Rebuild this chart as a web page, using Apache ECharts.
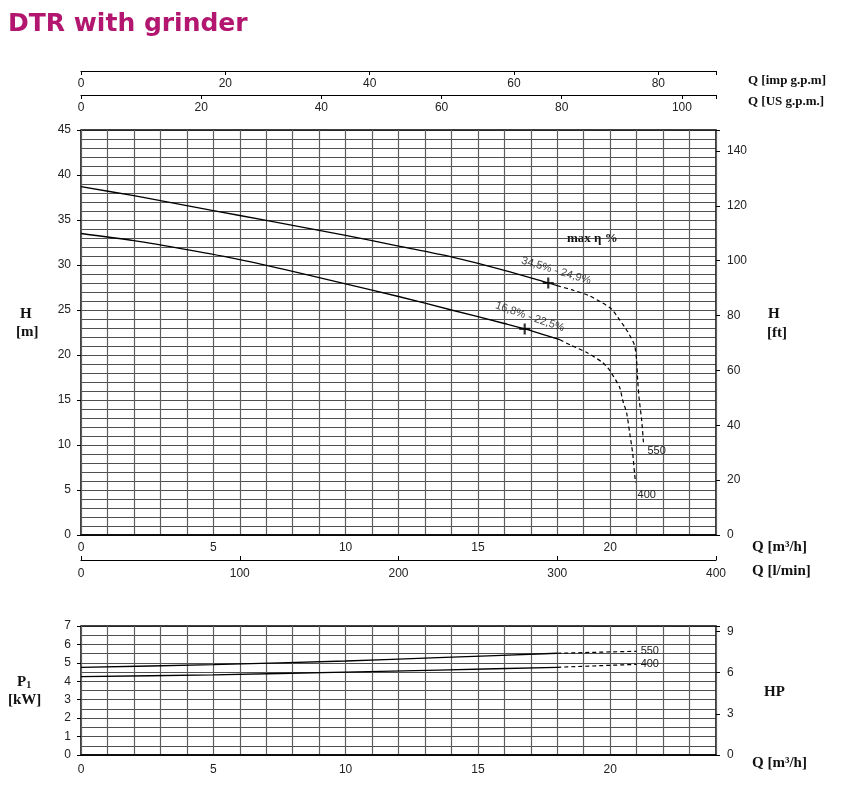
<!DOCTYPE html>
<html><head><meta charset="utf-8">
<script src="https://cdn.jsdelivr.net/npm/echarts@6/dist/echarts.min.js"></script>
<style>html,body{margin:0;padding:0;background:#fff}#c{width:863px;height:795px}</style>
</head><body><div id="c"></div>
<script>
// ---------- data ----------
// Head curves, Q [m3/h] vs H [m]
const q550Solid = [0, 2, 4, 6, 8, 10, 12, 14, 16, 17.66, 18];
const h550Solid = [38.7, 37.7, 36.6, 35.5, 34.4, 33.3, 32.1, 30.9, 29.4, 28.0, 27.7];
const q550Dash = [18, 18.6, 19.2, 19.7, 20.06, 20.36, 20.66, 20.92, 21.0, 21.04, 21.1, 21.19, 21.26];
const h550Dash = [27.7, 27.2, 26.6, 25.8, 25.1, 23.9, 22.6, 21.1, 19.4, 17.2, 15.0, 12.8, 10.2];

const q400Solid = [0, 2, 4, 6, 8, 10, 12, 14, 16, 16.77, 18.1];
const h400Solid = [33.5, 32.7, 31.7, 30.6, 29.3, 27.9, 26.5, 25.0, 23.5, 22.9, 21.7];
const q400Dash = [18.1, 18.5, 19.1, 19.7, 19.98, 20.36, 20.47, 20.62, 20.74, 20.85, 20.92, 20.96];
const h400Dash = [21.7, 21.1, 20.3, 19.2, 18.3, 16.4, 15.0, 13.6, 11.3, 9.1, 6.9, 5.8];

// Best efficiency points
const bepQ = [17.66, 16.77];
const bepH = [28.0, 22.9];
const bepLabels = ['34,5% - 24,9%', '16,8% - 22,5%'];
const curveNames = ['550', '400'];

// Power curves, Q [m3/h] vs P1 [kW]
const qPSolid = [0, 5, 10, 13.5, 18];
const p550Solid = [4.76, 4.9, 5.1, 5.28, 5.52];
const p400Solid = [4.25, 4.35, 4.5, 4.61, 4.76];
const qPDash = [18, 21];
const p550Dash = [5.52, 5.63];
const p400Dash = [4.76, 4.92];

// axis ranges
const qMax = 24;            // m3/h
const hMax = 45;            // m
const pMax = 7;             // kW
const lminMax = qMax * 1000 / 60;   // 400 l/min
const impMax = lminMax / 4.54609;
const usMax = lminMax / 3.78541;
const ftMax = hMax * 3.28084;
const hpMax = pMax * 1.34102;

// ---------- helpers ----------
const zip = (a, b) => a.map((v, i) => [v, b[i]]);
const multOf = (n) => (v) => (Math.abs(v / n - Math.round(v / n)) < 1e-6 ? String(Math.round(v)) : '');

const tickFont = { fontFamily: 'Liberation Sans', fontSize: 12, color: '#222' };
const serifS = 'bold 13px "Liberation Serif"';
const serifB = 'bold 15px "Liberation Serif"';
const black = '#000';

const chart = echarts.init(document.getElementById('c'));

const gridLineV = { show: true, lineStyle: { color: '#5e5e5e', width: 1.2 } };
const gridLineH = { show: true, lineStyle: { color: '#222', width: 0.8 } };
const off = { show: false };
const lineOff = { show: false, onZero: false };

const option = {
  animation: false,
  backgroundColor: '#fff',
  title: {
    text: 'DTR with grinder', left: 8, top: 12, padding: 0,
    textStyle: { fontFamily: 'DejaVu Sans', fontWeight: 'bold', fontSize: 25, color: '#b3166e' }
  },
  grid: [
    { left: 81, top: 130, width: 635, height: 405, show: true, borderColor: black, borderWidth: 1.5, backgroundColor: 'transparent' },
    { left: 81, top: 626, width: 635, height: 129, show: true, borderColor: black, borderWidth: 1.5, backgroundColor: 'transparent' }
  ],
  xAxis: [
    // 0: main grid lines
    { gridIndex: 0, type: 'value', min: 0, max: qMax, interval: 1, position: 'bottom', axisLine: lineOff, axisTick: off, axisLabel: off, splitLine: gridLineV },
    // 1: m3/h labels
    { gridIndex: 0, type: 'value', min: 0, max: qMax, interval: 5, position: 'bottom',
      axisLine: { show: true, onZero: false, lineStyle: { color: black, width: 1.5 } }, axisTick: off, splitLine: off,
      axisLabel: Object.assign({ margin: 7, formatter: multOf(5) }, tickFont) },
    // 2: l/min
    { gridIndex: 0, type: 'value', min: 0, max: lminMax, interval: 100, position: 'bottom', offset: 25,
      axisLine: { show: true, onZero: false, lineStyle: { color: black, width: 1.2 } },
      axisTick: { show: true, inside: true, length: 4, lineStyle: { color: black } }, splitLine: off,
      axisLabel: Object.assign({ margin: 8, formatter: multOf(100) }, tickFont) },
    // 3: imp gpm (top)
    { gridIndex: 0, type: 'value', min: 0, max: impMax, interval: 20, position: 'top', offset: 59,
      axisLine: { show: true, onZero: false, lineStyle: { color: black, width: 1.2 } },
      axisTick: { show: true, inside: true, length: 4, lineStyle: { color: black } }, splitLine: off,
      axisLabel: Object.assign({ inside: true, margin: 7, formatter: multOf(20) }, tickFont) },
    // 4: US gpm (top)
    { gridIndex: 0, type: 'value', min: 0, max: usMax, interval: 20, position: 'top', offset: 35,
      axisLine: { show: true, onZero: false, lineStyle: { color: black, width: 1.2 } },
      axisTick: { show: true, inside: true, length: 4, lineStyle: { color: black } }, splitLine: off,
      axisLabel: Object.assign({ inside: true, margin: 7, formatter: multOf(20) }, tickFont) },
    // 5: power grid lines
    { gridIndex: 1, type: 'value', min: 0, max: qMax, interval: 1, position: 'bottom', axisLine: lineOff, axisTick: off, axisLabel: off, splitLine: gridLineV },
    // 6: power m3/h labels
    { gridIndex: 1, type: 'value', min: 0, max: qMax, interval: 5, position: 'bottom',
      axisLine: { show: true, onZero: false, lineStyle: { color: black, width: 1.5 } }, axisTick: off, splitLine: off,
      axisLabel: Object.assign({ margin: 9, formatter: multOf(5) }, tickFont) }
  ],
  yAxis: [
    // 0: main H grid lines
    { gridIndex: 0, type: 'value', min: 0, max: hMax, interval: 1, position: 'left', axisLine: lineOff, axisTick: off, axisLabel: off, splitLine: gridLineH },
    // 1: H [m] labels
    { gridIndex: 0, type: 'value', min: 0, max: hMax, interval: 5, position: 'left',
      axisLine: lineOff, axisTick: { show: true, length: 4, lineStyle: { color: black } }, splitLine: off,
      axisLabel: Object.assign({ margin: 10, formatter: multOf(5) }, tickFont) },
    // 2: H [ft]
    { gridIndex: 0, type: 'value', min: 0, max: ftMax, interval: 20, position: 'right',
      axisLine: lineOff, axisTick: { show: true, length: 4, lineStyle: { color: black } }, splitLine: off,
      axisLabel: Object.assign({ margin: 11, formatter: multOf(20) }, tickFont) },
    // 3: power grid lines
    { gridIndex: 1, type: 'value', min: 0, max: pMax, interval: 0.5, position: 'left', axisLine: lineOff, axisTick: off, axisLabel: off, splitLine: gridLineH },
    // 4: P1 [kW] labels
    { gridIndex: 1, type: 'value', min: 0, max: pMax, interval: 1, position: 'left',
      axisLine: lineOff, axisTick: { show: true, length: 4, lineStyle: { color: black } }, splitLine: off,
      axisLabel: Object.assign({ margin: 10, formatter: multOf(1) }, tickFont) },
    // 5: HP
    { gridIndex: 1, type: 'value', min: 0, max: hpMax, interval: 3, position: 'right',
      axisLine: lineOff, axisTick: { show: true, length: 4, lineStyle: { color: black } }, splitLine: off,
      axisLabel: Object.assign({ margin: 11, formatter: multOf(3) }, tickFont) }
  ],
  series: [
    { type: 'line', xAxisIndex: 0, yAxisIndex: 0, data: zip(q550Solid, h550Solid), symbol: 'none', smooth: 0.3,
      lineStyle: { color: black, width: 1.3 }, silent: true },
    { type: 'line', xAxisIndex: 0, yAxisIndex: 0, data: zip(q550Dash, h550Dash), symbol: 'none', smooth: 0.2,
      lineStyle: { color: black, width: 1.2, type: [4, 3] }, silent: true,
      endLabel: { show: true, formatter: curveNames[0], distance: 4, offset: [0, 8], fontFamily: 'Liberation Sans', fontSize: 11, color: '#222' } },
    { type: 'line', xAxisIndex: 0, yAxisIndex: 0, data: zip(q400Solid, h400Solid), symbol: 'none', smooth: 0.3,
      lineStyle: { color: black, width: 1.3 }, silent: true },
    { type: 'line', xAxisIndex: 0, yAxisIndex: 0, data: zip(q400Dash, h400Dash), symbol: 'none', smooth: 0.2,
      lineStyle: { color: black, width: 1.2, type: [4, 3] }, silent: true,
      endLabel: { show: true, formatter: curveNames[1], distance: 2, offset: [0, 12], fontFamily: 'Liberation Sans', fontSize: 11, color: '#222' } },
    // best efficiency markers with labels
    { type: 'scatter', xAxisIndex: 0, yAxisIndex: 0, silent: true,
      symbol: 'path://M-1,-5H1V-1H5V1H1V5H-1V1H-5V-1H-1Z', symbolSize: 11, itemStyle: { color: black },
      data: [
        { value: [bepQ[0], bepH[0]], label: { show: true, formatter: bepLabels[0], position: 'inside', rotate: -17, offset: [4, -14] } },
        { value: [bepQ[1], bepH[1]], label: { show: true, formatter: bepLabels[1], position: 'inside', rotate: -19, offset: [1, -13] } }
      ],
      label: { fontFamily: 'Liberation Sans', fontSize: 11, color: '#111', align: 'center', verticalAlign: 'middle' } },
    // power curves
    { type: 'line', xAxisIndex: 5, yAxisIndex: 3, data: zip(qPSolid, p550Solid), symbol: 'none', smooth: 0.2,
      lineStyle: { color: black, width: 1.3 }, silent: true },
    { type: 'line', xAxisIndex: 5, yAxisIndex: 3, data: zip(qPDash, p550Dash), symbol: 'none',
      lineStyle: { color: black, width: 1.2, type: [4, 3] }, silent: true,
      endLabel: { show: true, formatter: curveNames[0], distance: 4, fontFamily: 'Liberation Sans', fontSize: 11, color: '#222' } },
    { type: 'line', xAxisIndex: 5, yAxisIndex: 3, data: zip(qPSolid, p400Solid), symbol: 'none', smooth: 0.2,
      lineStyle: { color: black, width: 1.3 }, silent: true },
    { type: 'line', xAxisIndex: 5, yAxisIndex: 3, data: zip(qPDash, p400Dash), symbol: 'none',
      lineStyle: { color: black, width: 1.2, type: [4, 3] }, silent: true,
      endLabel: { show: true, formatter: curveNames[1], distance: 4, fontFamily: 'Liberation Sans', fontSize: 11, color: '#222' } }
  ],
  graphic: [
    { type: 'text', left: 567, top: 232, style: { text: 'max η %', font: 'bold 13px "Liberation Serif"', fill: '#111' } },
    { type: 'text', left: 748, top: 74, style: { text: 'Q [imp g.p.m]', font: serifS, fill: '#111' } },
    { type: 'text', left: 748, top: 95, style: { text: 'Q [US g.p.m.]', font: serifS, fill: '#111' } },
    { type: 'text', left: 752, top: 540, style: { text: 'Q [m³/h]', font: serifB, fill: '#111' } },
    { type: 'text', left: 752, top: 564, style: { text: 'Q [l/min]', font: serifB, fill: '#111' } },
    { type: 'text', left: 752, top: 756, style: { text: 'Q [m³/h]', font: serifB, fill: '#111' } },
    { type: 'text', left: 20, top: 307, style: { text: 'H', font: serifB, fill: '#111' } },
    { type: 'text', left: 16, top: 325, style: { text: '[m]', font: serifB, fill: '#111' } },
    { type: 'text', left: 768, top: 307, style: { text: 'H', font: serifB, fill: '#111' } },
    { type: 'text', left: 767, top: 326, style: { text: '[ft]', font: serifB, fill: '#111' } },
    { type: 'text', left: 764, top: 685, style: { text: 'HP', font: serifB, fill: '#111' } },
    { type: 'text', left: 17, top: 675, style: { text: '{a|P}{b|1}', fill: '#111',
        rich: { a: { font: serifB }, b: { font: 'bold 10px "Liberation Serif"', padding: [6, 0, 0, 0] } } } },
    { type: 'text', left: 8, top: 693, style: { text: '[kW]', font: serifB, fill: '#111' } }
  ]
};
chart.setOption(option);
</script>
</body></html>
